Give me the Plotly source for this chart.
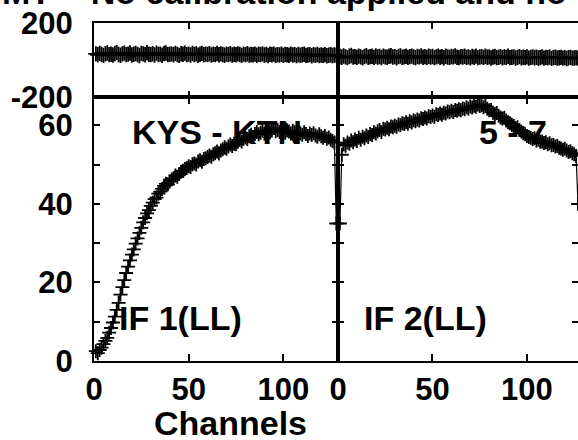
import plotly.graph_objects as go

# ---------------- data ----------------
amp_if1 = [2.5, 2.0, 2.8, 3.4, 4.3, 5.1, 5.9, 7.2, 8.4, 9.8,
           11.3, 13.0, 14.8, 16.9, 18.8, 20.6, 22.4, 24.0, 25.6, 27.1,
           28.4, 29.9, 31.2, 32.6, 33.9, 35.3, 36.4, 37.6, 38.4, 39.5,
           40.3, 41.2, 41.6, 42.6, 43.1, 43.8, 44.6, 45.1, 44.9, 45.7,
           46.2, 46.5, 47.2, 46.9, 47.6, 48.2, 48.4, 48.9, 49.1, 49.6,
           49.4, 50.1, 50.3, 50.0, 50.8, 51.1, 50.7, 51.4, 51.6, 51.9,
           52.3, 52.0, 52.6, 52.9, 53.3, 52.8, 53.6, 53.9, 54.4, 54.0,
           54.6, 55.1, 54.7, 55.3, 55.2, 55.8, 56.3, 55.9, 56.6, 56.9,
           56.5, 57.2, 57.6, 57.0, 57.8, 58.3, 57.7, 58.1, 58.6, 57.9,
           58.4, 58.9, 58.2, 58.7, 59.3, 58.5, 58.8, 58.3, 59.0, 58.6,
           58.1, 58.7, 58.4, 57.9, 58.6, 58.2, 57.8, 58.5, 58.0, 57.6,
           58.2, 57.8, 57.3, 57.9, 57.5, 58.0, 57.4, 57.1, 57.7, 57.2,
           56.8, 57.3, 56.6, 56.9, 56.3, 56.0, 55.6, 35.0]

amp_if2 = [35.0, 52.5, 55.2, 54.8, 55.6, 55.3, 56.1, 55.7, 56.4, 56.0,
           56.8, 56.3, 57.1, 56.7, 57.4, 57.0, 57.8, 57.5, 58.2, 57.9,
           58.5, 58.8, 58.3, 59.1, 58.9, 59.4, 59.0, 59.7, 59.5, 59.9,
           59.6, 60.2, 60.0, 60.5, 60.3, 60.8, 60.4, 61.0, 60.7, 61.3,
           61.0, 61.5, 61.2, 61.8, 61.6, 62.0, 61.7, 62.3, 62.1, 62.5,
           62.2, 62.8, 62.6, 63.0, 62.7, 63.2, 63.0, 63.5, 63.3, 63.7,
           63.4, 63.9, 63.7, 64.1, 63.8, 64.3, 64.1, 64.6, 64.3, 64.8,
           64.5, 65.0, 64.7, 65.3, 64.9, 65.1, 64.6, 64.9, 64.2, 63.8,
           63.9, 63.2, 62.9, 63.1, 62.4, 62.0, 61.7, 61.9, 61.2, 60.8,
           60.5, 60.1, 59.8, 59.3, 59.5, 58.8, 58.4, 58.0, 57.7, 57.3,
           57.0, 56.8, 56.5, 56.7, 56.1, 56.3, 55.8, 55.9, 55.5, 55.7,
           55.2, 55.4, 54.9, 55.0, 54.6, 54.7, 54.3, 54.1, 53.8, 54.0,
           53.6, 53.2, 53.4, 52.9, 52.6, 52.2, 40.0]

phase_if1 = [33, 28, 36, 30, 25, 34, 38, 29, 31, 27, 35, 40, 30, 26, 33, 37,
             29, 32, 38, 27, 31, 35, 30, 24, 36, 33, 28, 39, 31, 29, 34, 27,
             37, 30, 32, 26, 35, 38, 29, 31, 33, 28, 36, 30, 25, 34, 31, 37,
             29, 32, 27, 35, 30, 33, 26, 31, 36, 28, 32, 30, 34, 27, 31, 29,
             35, 28, 33, 30, 26, 32, 29, 34, 27, 31, 28, 33, 30, 25, 32, 29,
             34, 27, 30, 28, 32, 26, 31, 29, 33, 27, 30, 24, 31, 28, 32, 26,
             29, 27, 31, 25, 30, 28, 26, 32, 27, 29, 24, 30, 26, 28, 31, 25,
             27, 29, 23, 28, 26, 30, 24, 27, 25, 29, 23, 26, 28, 24, 27, 25]

phase_if2 = [19, 15, 22, 17, 13, 20, 24, 16, 18, 14, 21, 17, 12, 19, 23, 15,
             18, 20, 14, 22, 16, 19, 13, 21, 17, 15, 20, 23, 16, 18, 12, 19,
             22, 15, 17, 20, 14, 18, 21, 16, 13, 19, 17, 22, 15, 18, 14, 20,
             16, 19, 13, 17, 21, 15, 18, 12, 20, 16, 14, 19, 17, 22, 15, 13,
             18, 16, 20, 14, 17, 12, 19, 15, 21, 13, 16, 18, 14, 20, 15, 17,
             11, 16, 19, 13, 15, 18, 12, 16, 14, 20, 13, 15, 17, 11, 14, 18,
             12, 15, 13, 17, 10, 14, 16, 12, 15, 11, 13, 17, 10, 14, 12, 16,
             9, 13, 15, 11, 12, 14, 10, 13, 8, 12, 14, 10, 11, 13, 9, 12]

phase_ticks = [-200, 200]
phase_ticktext = ["-200", "200"]
amp_ticks = [0, 20, 40, 60]
chan_ticks = [0, 50, 100]
baseline_label = "KYS - KTN"
baseline_label2 = "5 - 7"
if_labels = ["IF 1(LL)", "IF 2(LL)"]
title_text = "MT&nbsp; - No calibration applied and no"
xlabel = "Channels"

# ---------------- figure ----------------
FONT = "Liberation Sans, Arial, sans-serif"
W, H = 578, 440
ML, MR, MT, MB = 94, 0, 23, 79
PW, PH = W - ML - MR, H - MT - MB
split = 244 / PW
top_split = (H - MB - 97) / PH

fig = go.Figure()

mk = dict(symbol="cross-thin", size=10, line=dict(width=1.8, color="black"), color="black")
mkp = dict(symbol="cross-thin", size=11, line=dict(width=1.8, color="black"), color="black")
ln = dict(width=1.2, color="black")

def chans(v):
    return list(range(1, len(v) + 1))

fig.add_trace(go.Scatter(x=chans(phase_if1), y=phase_if1, mode="lines+markers", marker=mkp, line=ln,
                         xaxis="x", yaxis="y", cliponaxis=False, showlegend=False))
fig.add_trace(go.Scatter(x=chans(phase_if2), y=phase_if2, mode="lines+markers", marker=mkp, line=ln,
                         xaxis="x2", yaxis="y2", cliponaxis=False, showlegend=False))
fig.add_trace(go.Scatter(x=chans(amp_if1), y=amp_if1, mode="lines+markers", marker=mk, line=ln,
                         xaxis="x3", yaxis="y3", cliponaxis=False, showlegend=False))
fig.add_trace(go.Scatter(x=chans(amp_if2), y=amp_if2, mode="lines+markers", marker=mk, line=ln,
                         xaxis="x4", yaxis="y4", cliponaxis=False, showlegend=False))

tickfont = dict(family=FONT, size=31, color="black", weight="bold")
frame = dict(showline=True, linewidth=2, linecolor="black", mirror="ticks",
             showgrid=False, zeroline=False, ticks="inside", tickwidth=2,
             tickcolor="black", automargin=False)
minor = dict(dtick=10, ticks="inside", ticklen=6, tickwidth=2, tickcolor="black")

r1 = [0, 128.9]
r2 = [0, 127.0]

fig.update_layout(
    width=W, height=H,
    margin=dict(l=ML, r=MR, t=MT, b=MB, pad=0, autoexpand=False),
    paper_bgcolor="white", plot_bgcolor="white",
    font=dict(family=FONT, color="black"),
    xaxis=dict(domain=[0, split], range=r1, tickvals=chan_ticks[1:], showticklabels=False,
               ticklen=6, anchor="y", **frame),
    xaxis2=dict(domain=[split, 1], range=r2, tickvals=chan_ticks[1:], showticklabels=False,
                ticklen=6, anchor="y2", **frame),
    xaxis3=dict(domain=[0, split], range=r1, tickvals=chan_ticks, ticklen=7,
                tickfont=tickfont, ticklabelstandoff=0, anchor="y3", **frame),
    xaxis4=dict(domain=[split, 1], range=r2, tickvals=chan_ticks, ticklen=7,
                tickfont=tickfont, ticklabelstandoff=0, anchor="y4", **frame),
    yaxis=dict(domain=[top_split, 1], range=[-200, 200], tickvals=phase_ticks,
               ticktext=phase_ticktext, ticklen=0,
               tickfont=tickfont, ticklabelstandoff=13, anchor="x", **frame),
    yaxis2=dict(domain=[top_split, 1], range=[-200, 200], tickvals=phase_ticks, ticklen=0,
                showticklabels=False, anchor="x2", **frame),
    yaxis3=dict(domain=[0, top_split], range=[0, 67.2], tickvals=amp_ticks, ticklen=6,
                tickfont=tickfont, ticklabelstandoff=13, anchor="x3", minor=minor, **frame),
    yaxis4=dict(domain=[0, top_split], range=[0, 67.2], tickvals=amp_ticks, ticklen=6,
                showticklabels=False, anchor="x4", minor=minor, **frame),
)

afont = dict(family=FONT, size=34, color="black", weight="bold")
fig.add_annotation(text=baseline_label, x=19, y=58.3, xref="x3", yref="y3",
                   xanchor="left", yanchor="middle", showarrow=False, font=afont)
fig.add_annotation(text=baseline_label2, x=73.4, y=58.3, xref="x4", yref="y4",
                   xanchor="left", yanchor="middle", showarrow=False, font=afont)
fig.add_annotation(text=if_labels[0], x=12, y=10.9, xref="x3", yref="y3",
                   xanchor="left", yanchor="middle", showarrow=False, font=afont)
fig.add_annotation(text=if_labels[1], x=12.5, y=10.9, xref="x4", yref="y4",
                   xanchor="left", yanchor="middle", showarrow=False, font=afont)
fig.add_annotation(text=xlabel, x=(230 - ML) / PW, y=(H - MB - 423) / PH,
                   xref="paper", yref="paper", xanchor="center", yanchor="middle",
                   showarrow=False, font=afont)
fig.add_annotation(text=title_text, x=(0 - ML) / PW, y=(H - MB - 13) / PH,
                   xref="paper", yref="paper", xanchor="left", yanchor="bottom",
                   showarrow=False, font=afont)

fig.write_html("out.html", config={"displayModeBar": False},
               post_script="document.body.style.margin='0';document.body.style.padding='0';")
